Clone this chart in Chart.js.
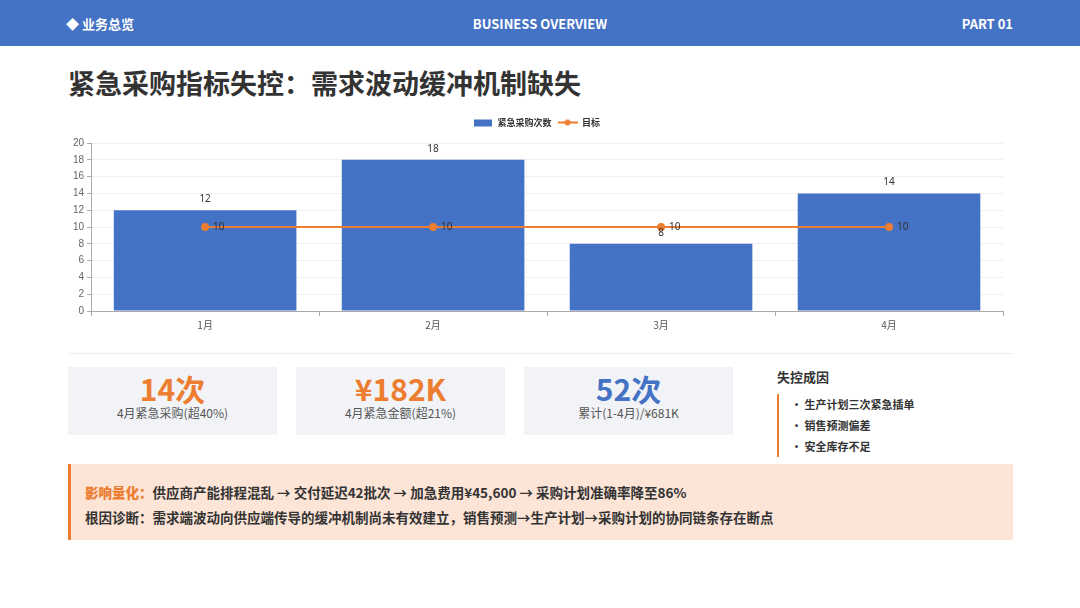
<!DOCTYPE html>
<html>
<head>
<meta charset="utf-8">
<script src="https://cdn.jsdelivr.net/npm/chart.js@4"></script>
<style>
  * { margin: 0; padding: 0; box-sizing: border-box; }
  body { width: 1080px; height: 608px; background: #fff; font-family: "Noto Sans CJK SC", "Noto Sans", sans-serif; position: relative; overflow: hidden; }
  .header { position: absolute; left: 0; top: 0; width: 1080px; height: 46px; background: #4472C4; color: #fff; font-weight: bold; font-size: 13px; }
  .header span { position: absolute; top: 14px; line-height: 20px; }
  .title { position: absolute; left: 68px; top: 63px; font-size: 27px; font-weight: bold; color: #333; }
  .chartBox { position: absolute; left: 60px; top: 112px; width: 953px; height: 222px; }
  .sep { position: absolute; left: 68px; top: 353px; width: 945px; height: 1px; background: #eee; }
  .kpi { position: absolute; top: 367px; width: 209px; height: 68px; background: #f2f3f6; text-align: center; }
  .kpi .num { font-size: 30px; font-weight: bold; line-height: 34px; margin-top: 4px; }
  .kpi .sub { font-size: 12px; color: #555; line-height: 15px; }
  .cause { position: absolute; left: 777px; top: 367px; }
  .cause h4 { font-size: 13px; color: #333; line-height: 20px; }
  .cause ul { list-style: none; margin-top: 7px; border-left: 2px solid #ED7D31; padding-left: 12px; }
  .cause li { font-size: 11px; font-weight: bold; color: #333; line-height: 21px; }
  .impact { position: absolute; left: 68px; top: 464px; width: 945px; height: 76px; background: #fce4d6; border-left: 3px solid #ED7D31; padding: 16px 0 0 14px; }
  .impact p { font-size: 13.5px; font-weight: bold; color: #333; line-height: 25px; }
  .impact b { color: #ED7D31; }
</style>
</head>
<body>
<div class="header">
  <span style="left:66px">◆ 业务总览</span>
  <span style="left:0;width:1080px;text-align:center">BUSINESS OVERVIEW</span>
  <span style="right:67px">PART 01</span>
</div>
<div class="title">紧急采购指标失控：需求波动缓冲机制缺失</div>
<div class="chartBox"><canvas id="procChart"></canvas></div>
<div class="sep"></div>
<div class="kpi" style="left:68px"><div class="num" style="color:#ED7D31">14次</div><div class="sub">4月紧急采购(超40%)</div></div>
<div class="kpi" style="left:296px"><div class="num" style="color:#ED7D31">¥182K</div><div class="sub">4月紧急金额(超21%)</div></div>
<div class="kpi" style="left:524px"><div class="num" style="color:#4472C4">52次</div><div class="sub">累计(1-4月)/¥681K</div></div>
<div class="cause">
  <h4>失控成因</h4>
  <ul>
    <li>· 生产计划三次紧急插单</li>
    <li>· 销售预测偏差</li>
    <li>· 安全库存不足</li>
  </ul>
</div>
<div class="impact">
  <p><b>影响量化：</b>供应商产能排程混乱 → 交付延迟42批次 → 加急费用¥45,600 → 采购计划准确率降至86%</p>
  <p>根因诊断：需求端波动向供应端传导的缓冲机制尚未有效建立，销售预测→生产计划→采购计划的协同链条存在断点</p>
</div>

<script>
// chart data
const months = ['1月', '2月', '3月', '4月'];
const urgentCounts = [12, 18, 8, 14];
const targetCounts = [10, 10, 10, 10];
const yTicks = { min: 0, max: 20, step: 2 };

const blue = '#4472C4';
const orange = '#ED7D31';

// legend icons
function makeIcon(kind) {
  const c = document.createElement('canvas');
  c.width = 20; c.height = 10;
  const g = c.getContext('2d');
  if (kind === 'bar') {
    g.fillStyle = blue;
    g.fillRect(1, 2, 18, 7);
  } else {
    g.strokeStyle = orange; g.lineWidth = 2;
    g.beginPath(); g.moveTo(0, 5); g.lineTo(20, 5); g.stroke();
    g.fillStyle = orange;
    g.beginPath(); g.arc(10, 5, 3, 0, Math.PI * 2); g.fill();
  }
  return c;
}

// value labels, placed from the drawn elements
const valueLabels = {
  id: 'valueLabels',
  afterDatasetsDraw(chart) {
    const ctx = chart.ctx;
    ctx.save();
    ctx.font = '10px "Noto Sans", sans-serif';
    ctx.fillStyle = '#333';
    chart.data.datasets.forEach((ds, i) => {
      const meta = chart.getDatasetMeta(i);
      meta.data.forEach((el, j) => {
        if (ds.type === 'line') {
          ctx.textAlign = 'left'; ctx.textBaseline = 'middle';
          ctx.fillText(ds.data[j], el.x + 8, el.y);
        } else {
          ctx.textAlign = 'center'; ctx.textBaseline = 'middle';
          ctx.fillText(ds.data[j], el.x, el.y - 11);
        }
      });
    });
    ctx.restore();
  }
};

// push the plot down a bit under the legend
const legendGap = {
  id: 'legendGap',
  beforeInit(chart) {
    const fit = chart.legend.fit;
    chart.legend.fit = function () {
      fit.bind(chart.legend)();
      this.height += 6;
    };
  }
};

new Chart(document.getElementById('procChart'), {
  data: {
    labels: months,
    datasets: [
      { type: 'bar', label: '紧急采购次数', data: urgentCounts, backgroundColor: blue,
        categoryPercentage: 0.9, barPercentage: 0.89, order: 2 },
      { type: 'line', label: '目标', data: targetCounts, borderColor: orange, backgroundColor: orange,
        borderWidth: 2, pointRadius: 3, pointHoverRadius: 3, pointStyle: 'circle', order: 1 }
    ]
  },
  options: {
    responsive: true,
    maintainAspectRatio: false,
    animation: false,
    layout: { padding: { left: 10, right: 10 } },
    plugins: {
      tooltip: { enabled: false },
      legend: {
        labels: {
          usePointStyle: true,
          pointStyleWidth: 20,
          generateLabels: (chart) => chart.data.datasets.map((ds, i) => ({
            text: ds.label, pointStyle: makeIcon(ds.type), datasetIndex: i,
            fontColor: '#333', lineWidth: 0, strokeStyle: 'transparent', fillStyle: 'transparent'
          })),
          font: { size: 9, weight: 'bold', family: '"Noto Sans CJK SC", sans-serif' },
          padding: 6
        }
      }
    },
    scales: {
      x: {
        grid: { drawOnChartArea: false, drawTicks: true, tickLength: 5, color: '#aaa' },
        border: { color: '#aaa' },
        ticks: { color: '#555', font: { size: 10, family: '"Noto Sans CJK SC", sans-serif' } }
      },
      y: {
        min: yTicks.min, max: yTicks.max,
        grid: { color: '#f0f0f0', tickLength: 4, tickColor: '#aaa' },
        border: { color: '#aaa' },
        ticks: { stepSize: yTicks.step, color: '#666', font: { size: 10 } }
      }
    }
  },
  plugins: [valueLabels, legendGap]
});
</script>
</body>
</html>
